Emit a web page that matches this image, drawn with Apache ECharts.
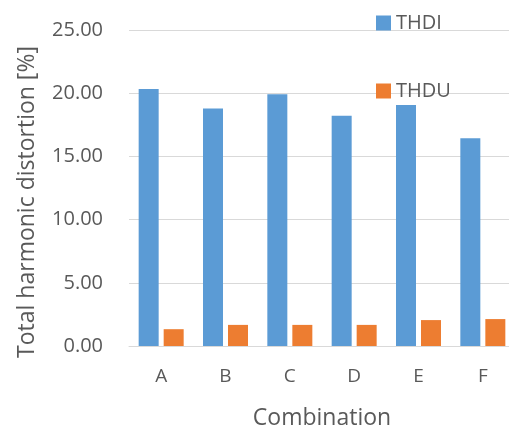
<!DOCTYPE html>
<html><head><meta charset="utf-8">
<script src="https://cdn.jsdelivr.net/npm/echarts@6/dist/echarts.min.js"></script>
<style>html,body{margin:0;padding:0;background:#fff}#c{width:509px;height:430px}</style>
</head><body><div id="c"></div>
<script>
var categories = ['A','B','C','D','E','F'];
var thdi = [20.34, 18.78, 19.92, 18.22, 19.07, 16.44];
var thdu = [1.33, 1.67, 1.67, 1.67, 2.05, 2.13];
var yTicks = [0, 5, 10, 15, 20, 25];

var font = '"Open Sans", "Liberation Sans", sans-serif';
var chart = echarts.init(document.getElementById('c'), null, {renderer: 'canvas'});
chart.setOption({
  animation: false,
  backgroundColor: '#fff',
  legend: {
    orient: 'vertical', left: 371, top: 8, itemWidth: 15, itemHeight: 15, itemGap: 48,
    icon: 'rect',
    textStyle: {color: '#595959', fontSize: 20, fontFamily: font},
    data: ['THDI', 'THDU']
  },
  grid: {left: 129, right: -6, top: 30, bottom: 84, containLabel: false, outerBoundsMode: 'none'},
  xAxis: {
    type: 'category', data: categories,
    axisLine: {lineStyle: {color: '#d9d9d9'}}, axisTick: {show: false},
    axisLabel: {color: '#595959', fontSize: 19, fontFamily: font, margin: 21},
    name: 'Combination', nameLocation: 'middle', nameGap: 61,
    nameTextStyle: {color: '#595959', fontSize: 23, fontFamily: font}
  },
  yAxis: {
    type: 'value', min: yTicks[0], max: yTicks[yTicks.length-1], interval: 5,
    axisLine: {show: false}, axisTick: {show: false},
    splitLine: {lineStyle: {color: '#d9d9d9'}},
    axisLabel: {color: '#595959', fontSize: 20, fontFamily: font, margin: 26,
      formatter: function(v){return v.toFixed(2);}},
    name: 'Total harmonic distortion [%]', nameLocation: 'middle', nameGap: 90,
    nameTextStyle: {color: '#595959', fontSize: 23, fontFamily: font, padding: [0, 28, 0, 0]}
  },
  series: [
    {name: 'THDI', type: 'bar', data: thdi, barWidth: 20, barGap: '25%', itemStyle: {color: '#5B9BD5'}},
    {name: 'THDU', type: 'bar', data: thdu, barWidth: 20, barGap: '25%', itemStyle: {color: '#ED7D31'}}
  ]
});
</script></body></html>
